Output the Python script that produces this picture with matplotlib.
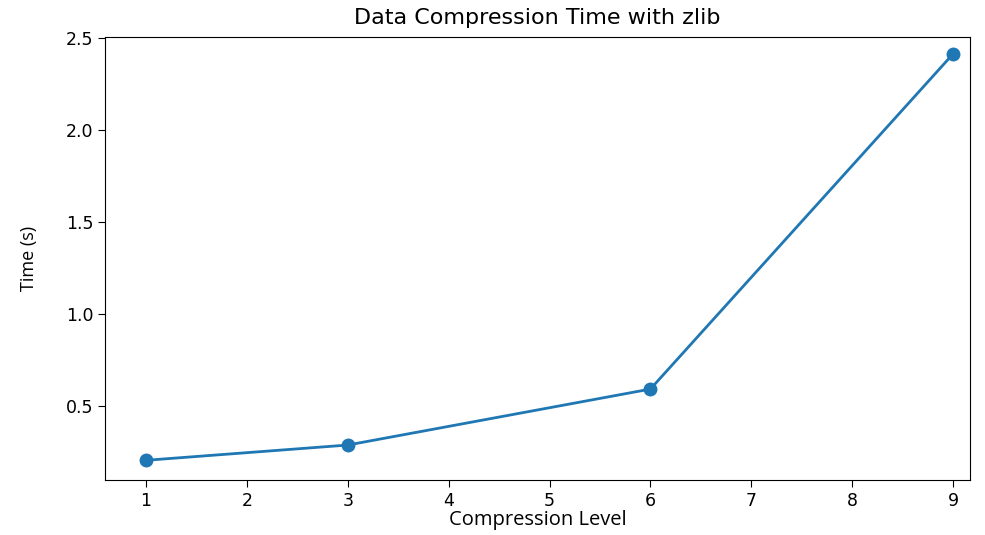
import matplotlib
matplotlib.use("Agg")
import matplotlib.pyplot as plt

# compression level vs time
levels = [1, 3, 6, 9]
times = [0.205, 0.288, 0.592, 2.413]

fig = plt.figure(figsize=(9.85, 5.35), dpi=100)
ax = fig.add_axes([105 / 985, 1 - 480 / 535, 865 / 985, 443 / 535])

ax.plot(levels, times, marker='o', color='#1f77b4', linewidth=2, markersize=9)

ax.set_xlim(0.594, 9.168)
ax.set_ylim(0.098, 2.505)
ax.set_title('Data Compression Time with zlib', fontsize=16, pad=9)
ax.set_xlabel('Compression Level', fontsize=14.5, family=['Open Sans', 'DejaVu Sans'], labelpad=0)
ax.set_ylabel('Time (s)', fontsize=13, family=['Open Sans', 'DejaVu Sans'], labelpad=20)
ax.set_xticks(range(1, 10))
ax.set_yticks([0.5, 1.0, 1.5, 2.0, 2.5])
ax.tick_params(labelsize=12.5, length=5)

fig.savefig('out.png', dpi=100)
